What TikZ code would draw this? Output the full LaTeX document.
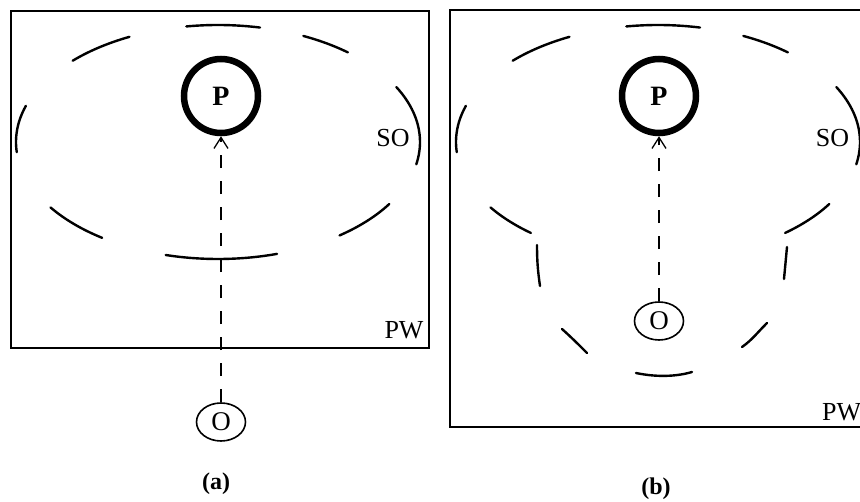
\documentclass[tikz,border=0pt]{standalone}
\usepackage{fontspec}
\setmainfont{Liberation Serif}
\usetikzlibrary{shapes.geometric,arrows.meta}
\newcommand\drawsoarc[3]{\draw[sodash, variable=\t, domain=#2:#3, samples=25, smooth] plot ({#1+202*cos(\t)},{142-117*sin(\t)});}
\begin{document}
\begin{tikzpicture}[x=1pt,y=-1pt,
  frame/.style={line width=2pt},
  sodash/.style={line width=2.4pt, line cap=round},
  pnode/.style={circle, draw, line width=6.5pt, minimum size=74pt, inner sep=0pt, font=\fontsize{28}{30}\selectfont\bfseries},
  onode/.style={ellipse, draw, line width=1.6pt, minimum width=49pt, minimum height=38pt, inner sep=0pt, font=\fontsize{27}{30}\selectfont},
  txt/.style={inner sep=0pt, font=\fontsize{26}{30}\selectfont},
  panellabel/.style={inner sep=0pt, font=\fontsize{24}{28}\selectfont\bfseries},
  link/.style={line width=1.3pt, dash pattern=on 13pt off 13pt, -{Straight Barb[length=11pt,width=14pt,line width=1.3pt]}}
]
\useasboundingbox (0,0) rectangle (860,502);
\clip (0,0) rectangle (860,502);

% ---------- panel (a) ----------
\draw[frame] (11,11) rectangle (429,348);
\drawsoarc{218}{78}{99}
\drawsoarc{218}{116}{136}
\drawsoarc{218}{50}{65}
\drawsoarc{218}{162}{185}
\drawsoarc{218}{-11}{28}
\drawsoarc{218}{214}{235}
\drawsoarc{218}{307}{328}
\drawsoarc{218}{255}{287}
\node[pnode] (Pa) at (221,96) {P};
\node[onode] (Oa) at (221,422) {O};
\node[txt, anchor=base] (SOa) at (393,147) {SO};
\node[txt, anchor=base] (PWa) at (404,339) {PW};
\node[panellabel] (La) at (216,484) {(a)};
\draw[link] (Oa.north) -- (Pa.south);

% ---------- panel (b) ----------
\draw[frame] (450,10) rectangle (868,427);
\drawsoarc{658}{78}{99}
\drawsoarc{658}{116}{136}
\drawsoarc{658}{50}{65}
\drawsoarc{658}{162}{185}
\drawsoarc{658}{-11}{28}
\drawsoarc{658}{214}{231}
\drawsoarc{658}{309}{328}
\draw[sodash] (537,245) to[bend right=4] (540,286);
\draw[sodash] (787,247) -- (784,279);
\draw[sodash] (562,329) .. controls (572,338) and (578,344) .. (587,353);
\draw[sodash] (767,323) .. controls (757,333) and (752,340) .. (742,347);
\draw[sodash] (636,373) .. controls (655,377) and (675,377) .. (692,372);
\node[pnode] (Pb) at (659,96) {P};
\node[onode] (Ob) at (659,321) {O};
\node[txt, anchor=base] (SOb) at (832.5,147) {SO};
\node[txt, anchor=base west] (PWb) at (822,421) {PW};
\node[panellabel] (Lb) at (656,489) {(b)};
\draw[link] (Ob.north) -- (Pb.south);
\end{tikzpicture}
\end{document}
